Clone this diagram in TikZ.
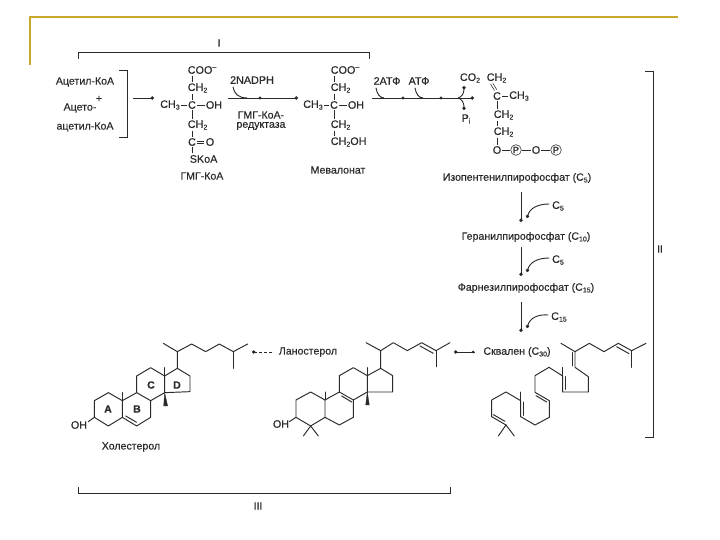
\documentclass[tikz,border=0pt]{standalone}
\usepackage{fontspec}
\setmainfont{Liberation Sans}[FakeBold=0.25]
\usetikzlibrary{arrows.meta}
\definecolor{ink}{HTML}{2A2A2A}
\definecolor{gold}{HTML}{C9A92C}
\tikzset{
  bond/.style={draw=ink,line width=0.95pt,line cap=round,line join=round},
  thin bond/.style={draw=ink,line width=0.55pt},
  frame/.style={draw=ink,line width=0.9pt},
  dotarrow/.style={draw=ink,line width=0.9pt,-{Circle[length=3.4pt,width=3.4pt]}},
  txt/.style={font=\fontsize{10.6}{11}\selectfont,text=ink,inner sep=0pt,outer sep=0.8pt},
  chem/.style={font=\fontsize{10.8}{11}\selectfont,text=ink,inner sep=0pt,outer sep=0.8pt},
  ring/.style={font=\bfseries\fontsize{10.5}{11}\selectfont,text=ink,inner sep=0pt},
  wedge/.style={fill=ink,draw=ink,line width=0.3pt},
  circP/.style={draw=ink,circle,text=ink,line width=0.55pt,inner sep=0.7pt,font=\fontsize{9}{9}\selectfont},
}
\newcommand{\subs}[1]{\raisebox{-0.3ex}{\fontsize{7}{7}\selectfont #1}}
\begin{document}
\begin{tikzpicture}[x=1pt,y=-1pt]
\useasboundingbox (0,0) rectangle (720,540);
\fill[white] (0,0) rectangle (720,540);
% slide decoration
\draw[gold,line width=1.6pt] (30,65) -- (30,17) -- (678,17);
% brackets
\coordinate (b1a) at (78,59); \coordinate (b1b) at (78,52); \coordinate (b1c) at (369,52); \coordinate (b1d) at (369,59);
\draw[frame] (b1a) -- (b1b) -- (b1c) -- (b1d);
\node[txt] (labI) at (219,43) {I};
\draw[frame] (119,70) -- (127,70) -- (127,137) -- (119,137);
\draw[frame] (645,71) -- (653,71) -- (653,437) -- (645,437);
\node[txt] (labII) at (660,249) {II};
\draw[frame] (78,487) -- (78,493) -- (450,493) -- (450,487);
\node[txt] (labIII) at (258,506) {III};
% substrates
\node[txt] (acet) at (85,82) {Ацетил-КоА};
\node[txt] (plus) at (99,99) {+};
\node[txt] (aceto) at (80,108) {Ацето-};
\node[txt] (acet2) at (85,127) {ацетил-КоА};
\coordinate (a1s) at (133,98); \coordinate (a1e) at (154,98);
\draw[dotarrow] (a1s) -- (a1e);
% HMG-CoA
\node[chem,anchor=west] (h1) at (187,70) {COO\raisebox{0.8ex}{\fontsize{7}{7}\selectfont --}};
\node[chem,anchor=west] (h2) at (187,88) {CH\subs{2}};
\node[chem] (h3a) at (170,105) {CH\subs{3}};
\node[chem] (h3) at (192,105) {C};
\node[chem] (h3b) at (214,105) {OH};
\node[chem,anchor=west] (h4) at (187,125) {CH\subs{2}};
\node[chem] (h5) at (192,142) {C};
\node[chem] (h5b) at (210,142) {O};
\node[chem,anchor=west] (h6) at (189,159) {SKoA};
\node[txt] (hname) at (202,176) {ГМГ-КоА};
\draw[thin bond] (192,76) -- (192,82);
\draw[thin bond] (192,94) -- (h3);
\draw[thin bond] (h3a) -- (h3);
\draw[thin bond] (h3) -- (h3b);
\draw[thin bond] (h3) -- (192,119);
\draw[thin bond] (192,131) -- (h5);
\draw[thin bond] (h5) -- (192,153);
\draw[thin bond] (197,140.8) -- (204,140.8);
\draw[thin bond] (197,143.2) -- (204,143.2);
% NADPH
\node[chem] (nadph) at (252,80) {2NADPH};
\coordinate (m1s) at (228,98); \coordinate (m1d) at (260,98); \coordinate (m1e) at (298,98); \coordinate (n1) at (233,87); \coordinate (n2) at (247,98);
\draw[dotarrow] (m1s) -- (m1e);
\fill[ink] (m1d) circle (1.6pt);
\draw[bond] (n1) .. controls (234,94) and (239,98) .. (n2);
\node[txt] (red1) at (261,115) {ГМГ-КоА-};
\node[txt] (red2) at (261,126) {редуктаза};
% Mevalonate
\node[chem,anchor=west] (m1) at (330,70) {COO\raisebox{0.8ex}{\fontsize{7}{7}\selectfont --}};
\node[chem,anchor=west] (m2) at (330,88) {CH\subs{2}};
\node[chem] (m3a) at (313,105) {CH\subs{3}};
\node[chem] (m3) at (334,105) {C};
\node[chem] (m3b) at (356,105) {OH};
\node[chem,anchor=west] (m4) at (330,125) {CH\subs{2}};
\node[chem,anchor=west] (m5) at (330,142) {CH\subs{2}OH};
\node[txt] (mname) at (338,170) {Мевалонат};
\draw[thin bond] (334,76) -- (334,82);
\draw[thin bond] (334,94) -- (m3);
\draw[thin bond] (m3a) -- (m3);
\draw[thin bond] (m3) -- (m3b);
\draw[thin bond] (m3) -- (334,119);
\draw[thin bond] (334,131) -- (334,136);
% ATP line
\node[chem] (atp2) at (387,81) {2АТФ};
\node[chem] (atp1) at (419,81) {АТФ};
\coordinate (l1) at (372,98); \coordinate (l2) at (403,98); \coordinate (l3) at (441,98); \coordinate (l4) at (474,98); \coordinate (fork) at (458,98);
\draw[dotarrow] (l1) -- (l4);
\fill[ink] (l2) circle (1.6pt); \fill[ink] (l3) circle (1.6pt);
\coordinate (c1a) at (376,88); \coordinate (c1b) at (384,98);
\coordinate (c2a) at (415,88); \coordinate (c2b) at (423,98);
\draw[bond] (c1a) .. controls (377,94) and (380,98) .. (c1b);
\draw[bond] (c2a) .. controls (416,94) and (419,98) .. (c2b);
\coordinate (co) at (464,86); \coordinate (pi) at (464,110);
\draw[dotarrow] (fork) .. controls (462,97) and (464,93) .. (co);
\draw[dotarrow] (fork) .. controls (462,99) and (464,103) .. (pi);
\node[chem] (co2) at (470,78) {CO\subs{2}};
\node[chem] (pit) at (466,119) {P\subs{i}};
% IPP
\node[chem,anchor=west] (i1) at (486,78) {CH\subs{2}};
\node[chem] (i2) at (497,96) {C};
\node[chem] (i2b) at (519,96) {CH\subs{3}};
\node[chem,anchor=west] (i3) at (493,115) {CH\subs{2}};
\node[chem,anchor=west] (i4) at (493,132) {CH\subs{2}};
\node[chem] (i5) at (497,150) {O};
\node[circP] (i6) at (516,150) {P};
\node[chem] (i7) at (536,150) {O};
\node[circP] (i8) at (556,150) {P};
\draw[thin bond] (490.5,84) -- (494.5,90.5);
\draw[thin bond] (492.8,83.2) -- (496.8,89.7);
\draw[thin bond] (i2) -- (i2b);
\draw[thin bond] (i2) -- (497,109);
\draw[thin bond] (497,121) -- (497,126);
\draw[thin bond] (497,138) -- (i5);
\draw[thin bond] (i5) -- (i6);
\draw[thin bond] (i6) -- (i7);
\draw[thin bond] (i7) -- (i8);
\node[txt] (ipp) at (517,178) {Изопентенилпирофосфат (C\subs{5})};
% chain down
\coordinate (d1) at (521,192); \coordinate (d1e) at (521,222);
\draw[dotarrow] (d1) -- (d1e);
\node[chem] (c5a) at (558,206) {C\subs{5}};
\coordinate (e1) at (527,218);
\draw[dotarrow] (c5a.west) ++(-2,-2) .. controls (538,204) and (530,208) .. (e1);
\node[txt] (ger) at (526,237) {Геранилпирофосфат (C\subs{10})};
\coordinate (d2) at (521,247); \coordinate (d2e) at (521,276);
\draw[dotarrow] (d2) -- (d2e);
\node[chem] (c5b) at (558,260) {C\subs{5}};
\coordinate (e2) at (527,272);
\draw[dotarrow] (c5b.west) ++(-2,-2) .. controls (538,258) and (530,262) .. (e2);
\node[txt] (far) at (526,288) {Фарнезилпирофосфат (C\subs{15})};
\coordinate (d3) at (521,302); \coordinate (d3e) at (521,332);
\draw[dotarrow] (d3) -- (d3e);
\node[chem] (c15) at (559,317) {C\subs{15}};
\coordinate (e3) at (527,328);
\draw[dotarrow] (c15.west) ++(-2,-2) .. controls (538,314) and (530,318) .. (e3);
% bottom labels
\node[txt] (sq) at (517,352) {Сквален (C\subs{30})};
\node[txt] (lan) at (308,352) {Ланостерол};
\node[txt] (chol) at (131,447) {Холестерол};
\coordinate (s1) at (475,352); \coordinate (s2) at (454,352);
\draw[dotarrow] (s1) -- (s2);
\fill[ink] (473,352) circle (1.5pt);
\coordinate (ls) at (272,352); \coordinate (le) at (252,352);
\draw[dotarrow,densely dashed] (ls) -- (le);
% Cholesterol
\begin{scope}[shift={(60,330)},x=0.3333pt,y=-0.3333pt]
\draw[bond] (103,262) -- (103,212) -- (145,188) -- (187,212) -- (187,262) -- (145,288) -- cycle;
\draw[bond] (187,212) -- (230,188) -- (272,212) -- (272,262) -- (230,288) -- (187,262);
\draw[bond] (197,258) -- (230,277);
\draw[bond] (230,188) -- (230,138) -- (272,113) -- (314,138) -- (314,188) -- (272,212);
\draw[bond] (314,138) -- (352,115) -- (390,138) -- (390,185) -- (314,188);
\draw[bond] (187,212) -- (187,188);
\draw[bond] (314,138) -- (314,113);
\fill[wedge] (314,188) -- (311,228) -- (323,228) -- cycle;
\draw[bond] (352,115) -- (352,65) -- (310,40);
\draw[bond] (352,65) -- (395,42) -- (437,65) -- (478,42) -- (520,65) -- (563,42);
\draw[bond] (520,65) -- (520,115);
\draw[bond] (103,262) -- (85,275);
\end{scope}
\node[chem] (oh1) at (79,425) {OH};
\node[ring] (ra) at (108,409) {A};
\node[ring] (rb) at (137,409) {B};
\node[ring] (rc) at (151,385) {C};
\node[ring] (rd) at (177,385) {D};
% Lanosterol
\begin{scope}[shift={(250,330)},x=0.3333pt,y=-0.3333pt]
\draw[bond] (138,262) -- (138,210) -- (182,186) -- (225,210) -- (225,262) -- (182,288) -- cycle;
\draw[bond] (225,210) -- (268,186) -- (310,210) -- (310,262) -- (268,285) -- (225,262);
\draw[bond] (268,186) -- (268,137) -- (310,113) -- (352,137) -- (352,186) -- (310,210);
\draw[bond] (275,198) -- (305,216);
\draw[bond] (352,137) -- (392,115) -- (428,137) -- (428,186) -- (352,186);
\draw[bond] (225,210) -- (225,186);
\draw[bond] (352,137) -- (352,113);
\fill[wedge] (352,186) -- (347,225) -- (358,225) -- cycle;
\draw[bond] (182,288) -- (160,318);
\draw[bond] (182,288) -- (205,318);
\draw[bond] (392,115) -- (392,62) -- (348,38);
\draw[bond] (392,62) -- (430,38) -- (472,62) -- (515,38) -- (558,62) -- (600,38);
\draw[bond] (510,48) -- (550,70);
\draw[bond] (558,62) -- (558,110);
\draw[bond] (138,262) -- (118,275);
\end{scope}
\node[chem] (oh2) at (281,424) {OH};
% Squalene
\begin{scope}[shift={(450,330)},x=0.3333pt,y=-0.3333pt]
\draw[bond] (333,40) -- (375,65) -- (418,40) -- (462,65) -- (505,40) -- (545,62) -- (588,40);
\draw[bond] (500,50) -- (537,71);
\draw[bond] (545,62) -- (545,112);
\draw[bond] (375,65) -- (375,112) -- (415,140) -- (415,186) -- (338,186) -- (338,138) -- (297,112) -- (255,137) -- (255,187) -- (298,212) -- (298,262) -- (255,285) -- (212,260) -- (212,212) -- (168,186) -- (125,210) -- (125,260) -- (168,285);
\draw[bond] (367,68) -- (367,108);
\draw[bond] (338,138) -- (338,112);
\draw[bond] (346,178) -- (346,140);
\draw[bond] (258,197) -- (290,216);
\draw[bond] (220,256) -- (220,216);
\draw[bond] (212,212) -- (212,186);
\draw[bond] (130,254) -- (165,274);
\draw[bond] (168,285) -- (145,318);
\draw[bond] (168,285) -- (193,318);
\end{scope}
\end{tikzpicture}
\end{document}
